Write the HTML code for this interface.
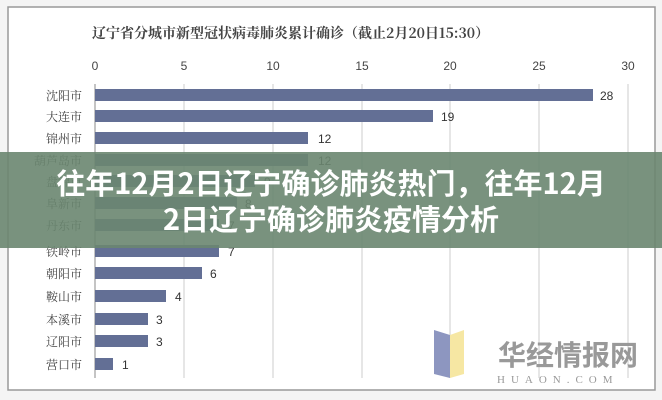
<!DOCTYPE html>
<html><head><meta charset="utf-8"><style>
body{margin:0;width:662px;height:400px;background:#fff;overflow:hidden;font-family:"Liberation Sans","Noto Sans CJK SC",sans-serif;}
</style></head><body>
<svg width="662" height="400" xmlns="http://www.w3.org/2000/svg" style="position:absolute;left:0;top:0">
<rect x="0" y="0" width="662" height="400" fill="#f4f4f4"/>
<rect x="8" y="7" width="647" height="383" fill="#fff" stroke="#999" stroke-width="1.5"/>
<text x="92" y="38" font-size="14" font-weight="bold" fill="#444" font-family="'Noto Serif CJK SC','Liberation Serif',serif">辽宁省分城市新型冠状病毒肺炎累计确诊（截止2月20日15:30）</text>
<g font-size="12" fill="#444" text-anchor="middle">
<text x="95" y="70">0</text><text x="184" y="70">5</text><text x="273" y="70">10</text><text x="362" y="70">15</text><text x="450" y="70">20</text><text x="539" y="70">25</text><text x="628" y="70">30</text>
</g>
<g stroke="#ccc" stroke-width="1">
<line x1="184" y1="84" x2="184" y2="378"/><line x1="273" y1="84" x2="273" y2="378"/><line x1="362" y1="84" x2="362" y2="378"/><line x1="450" y1="84" x2="450" y2="378"/><line x1="539" y1="84" x2="539" y2="378"/><line x1="628" y1="84" x2="628" y2="378"/>
</g>
<line x1="95" y1="84" x2="95" y2="378" stroke="#888"/>
<g fill="#636f95">
<rect x="95" y="89" width="498" height="12"/>
<rect x="95" y="110" width="338" height="12"/>
<rect x="95" y="132" width="213" height="12"/>
<rect x="95" y="154" width="213" height="12"/>
<rect x="95" y="175" width="160" height="12"/>
<rect x="95" y="197" width="142" height="12"/>
<rect x="95" y="219" width="124" height="12"/>
<rect x="95" y="245" width="124" height="12"/>
<rect x="95" y="267" width="107" height="12"/>
<rect x="95" y="290" width="71" height="12"/>
<rect x="95" y="313" width="53" height="12"/>
<rect x="95" y="335" width="53" height="12"/>
<rect x="95" y="358" width="18" height="12"/>
</g>
<g font-size="12" fill="#333">
<text x="600" y="100">28</text><text x="441" y="121">19</text><text x="318" y="143">12</text><text x="318" y="165">12</text>
<text x="264" y="186">9</text><text x="245" y="208">8</text><text x="228" y="230">7</text><text x="228" y="256">7</text>
<text x="210" y="278">6</text><text x="175" y="301">4</text><text x="156" y="324">3</text><text x="156" y="346">3</text><text x="122" y="369">1</text>
</g>
<g font-size="12" fill="#444" text-anchor="end" font-family="'Noto Serif CJK SC',serif">
<text x="82" y="100">沈阳市</text><text x="82" y="121">大连市</text><text x="82" y="143">锦州市</text><text x="82" y="165">葫芦岛市</text>
<text x="82" y="186">盘锦市</text><text x="82" y="208">阜新市</text><text x="82" y="230">丹东市</text><text x="82" y="256">铁岭市</text>
<text x="82" y="278">朝阳市</text><text x="82" y="301">鞍山市</text><text x="82" y="324">本溪市</text><text x="82" y="346">辽阳市</text><text x="82" y="369">营口市</text>
</g>
<polygon points="434,330 450,335 450,378 434,374" fill="#8d96c0"/>
<polygon points="450,335 464,330 464,374 450,378" fill="#f6e7a3"/>
<text x="498" y="365" font-size="28" font-weight="bold" fill="#999" font-family="'Noto Sans CJK SC',sans-serif">华经情报网</text>
<text x="497" y="383" font-size="11" fill="#999" letter-spacing="6" font-family="'Liberation Serif',serif">HUAON.COM</text>
<rect x="0" y="152" width="662" height="96" fill="#6a8670" opacity="0.9"/>
<g font-size="29" font-weight="bold" fill="#fff" text-anchor="middle" font-family="'Noto Sans CJK SC',sans-serif">
<text x="331" y="194">往年12月2日辽宁确诊肺炎热门，往年12月</text>
<text x="331" y="230">2日辽宁确诊肺炎疫情分析</text>
</g>
</svg>
</body></html>
